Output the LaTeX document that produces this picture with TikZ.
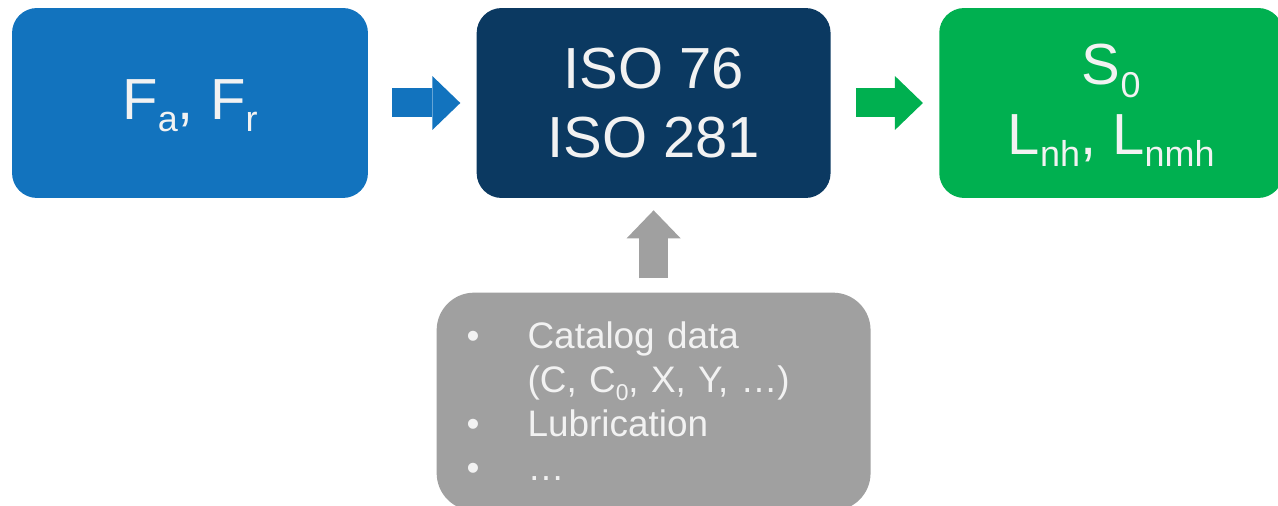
\documentclass[tikz,border=0pt]{standalone}
\usepackage{fontspec}
\setmainfont{Liberation Sans}
\usetikzlibrary{positioning,arrows.meta}

\definecolor{boxblue}{HTML}{1273BE}
\definecolor{boxnavy}{HTML}{0B3961}
\definecolor{boxgreen}{HTML}{00B050}
\definecolor{boxgray}{HTML}{A0A0A0}
\definecolor{txtwhite}{HTML}{F2F2F2}
\newcommand{\lowidx}[1]{\smash{\raisebox{-0.22em}{\scalebox{0.62}{#1}}}}

\begin{document}
\begin{tikzpicture}[x=0.02cm, y=-0.02cm]
	\tikzstyle{block}=[rectangle, rounded corners=0.5cm, minimum height=3.8cm, inner sep=0pt, text=txtwhite, align=center, font=\fontsize{33}{39.5}\selectfont]
	\tikzstyle{listbox}=[rectangle, rounded corners=0.75cm, fill=boxgray, minimum height=4.36cm, text width=7.48cm, text height=57.9pt, text depth=42.9pt, inner xsep=0.6cm, inner ysep=0pt, text=txtwhite, align=left, font=\fontsize{21}{25.2}\selectfont]
	\tikzstyle{flow}=[line width=0.58cm, -{Triangle[width=1.08cm, length=0.56cm, line width=0pt]}]

	\useasboundingbox (0,0) rectangle (1278,506);
	\clip (0,0) rectangle (1278,506);

	\node [block, fill=boxblue, minimum width=7.12cm] (loads) at (190,103) {F\lowidx{a}, F\lowidx{r}};
	\node [block, fill=boxnavy, minimum width=7.08cm] (iso) [right=2.16cm of loads] {ISO 76\\ISO 281};
	\node [block, fill=boxgreen, minimum width=6.88cm] (life) [right=2.16cm of iso] {S\lowidx{0}\\L\lowidx{nh}, L\lowidx{nmh}};

	\node [listbox] (data) [below=1.88cm of iso] {%
		\begin{tabular}{@{}p{1.22cm}@{}l@{}}
		\textbullet & Catalog data\\
		 & (C, C\lowidx{0}, X, Y, …)\\
		\textbullet & Lubrication\\
		\textbullet & …
		\end{tabular}};

	\draw [flow, boxblue, shorten <=0.48cm, shorten >=0.32cm] (loads.east) -- (iso.west);
	\draw [flow, boxgreen, shorten <=0.5cm, shorten >=0.32cm] (iso.east) -- (life.west);
	\draw [flow, boxgray, shorten <=0.28cm, shorten >=0.24cm] (data.north) -- (iso.south);

\end{tikzpicture}
\end{document}
